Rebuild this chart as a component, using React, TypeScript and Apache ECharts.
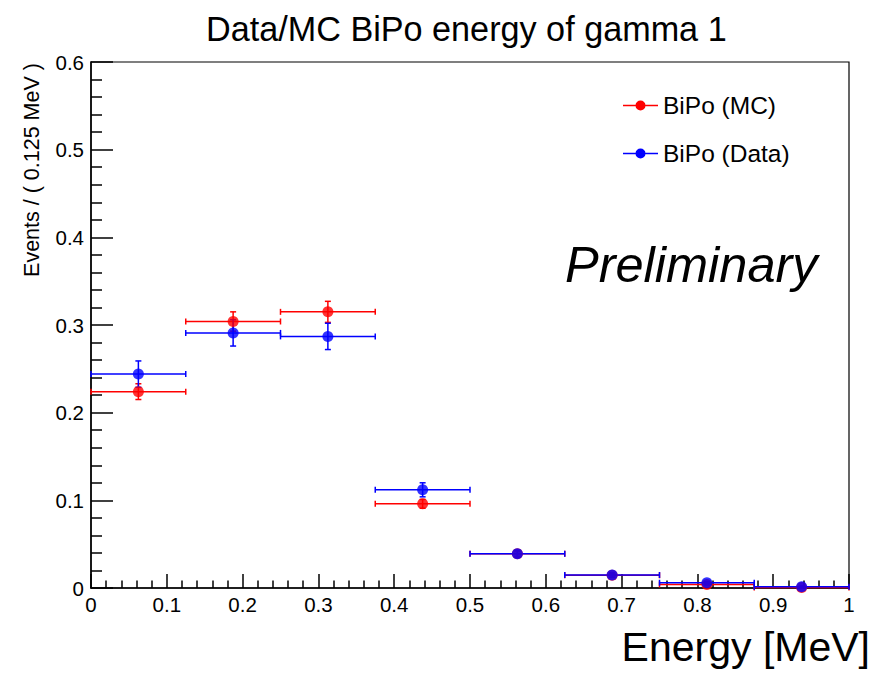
import React, { useEffect, useRef } from "react";
import * as echarts from "echarts";

const binCenters = [0.0625, 0.1875, 0.3125, 0.4375, 0.5625, 0.6875, 0.8125, 0.9375];
const binHalfWidth = 0.0625;
const mcValues = [0.224, 0.304, 0.315, 0.096, 0.039, 0.0145, 0.004, 0.0006];
const mcErrors = [0.009, 0.011, 0.012, 0.005, 0.003, 0.002, 0.001, 0.0005];
const dataValues = [0.244, 0.291, 0.287, 0.112, 0.039, 0.0148, 0.006, 0.0013];
const dataErrors = [0.015, 0.015, 0.015, 0.008, 0.004, 0.0025, 0.0015, 0.001];
const xTickLabels = ["0", "0.1", "0.2", "0.3", "0.4", "0.5", "0.6", "0.7", "0.8", "0.9", "1"];
const yTickLabels = ["0", "0.1", "0.2", "0.3", "0.4", "0.5", "0.6"];

const FONT = "Liberation Sans, Arial, Helvetica, sans-serif";
const RED = "#ff0000";
const BLUE = "#0000ff";
const LEGEND_ICON =
  "path://M0,5.25 L35,5.25 L35,6.75 L0,6.75 Z M12.5,6 A5,5 0 1 1 22.5,6 A5,5 0 1 1 12.5,6 Z";

function errorBarSeries(name: string, color: string, values: number[], errors: number[]) {
  return {
    name,
    type: "custom",
    itemStyle: { color },
    data: binCenters.map((x, i) => [x, values[i], binHalfWidth, errors[i]]),
    encode: { x: 0, y: 1 },
    renderItem: (_params: any, api: any) => {
      const x = api.value(0);
      const y = api.value(1);
      const ex = api.value(2);
      const ey = api.value(3);
      const c = api.coord([x, y]);
      const l = api.coord([x - ex, y]);
      const r = api.coord([x + ex, y]);
      const t = api.coord([x, y + ey]);
      const b = api.coord([x, Math.max(0, y - ey)]);
      const style = { stroke: color, lineWidth: 1.5 };
      const cap = 3;
      return {
        type: "group",
        children: [
          { type: "line", shape: { x1: l[0], y1: c[1], x2: r[0], y2: c[1] }, style },
          { type: "line", shape: { x1: l[0], y1: c[1] - cap, x2: l[0], y2: c[1] + cap }, style },
          { type: "line", shape: { x1: r[0], y1: c[1] - cap, x2: r[0], y2: c[1] + cap }, style },
          { type: "line", shape: { x1: c[0], y1: t[1], x2: c[0], y2: b[1] }, style },
          { type: "line", shape: { x1: c[0] - cap, y1: t[1], x2: c[0] + cap, y2: t[1] }, style },
          { type: "line", shape: { x1: c[0] - cap, y1: b[1], x2: c[0] + cap, y2: b[1] }, style },
        ],
      };
    },
  };
}

function pointSeries(name: string, color: string, values: number[]) {
  return {
    name,
    type: "scatter",
    symbol: "circle",
    symbolSize: 11,
    itemStyle: { color },
    data: binCenters.map((x, i) => [x, values[i]]),
  };
}

export default function App() {
  const ref = useRef<HTMLDivElement>(null);
  useEffect(() => {
    if (!ref.current) return;
    const chart = echarts.init(ref.current, null, { renderer: "svg" });
    const tickStyle = { color: "#000", width: 1.5 };
    chart.setOption({
      animation: false,
      backgroundColor: "#fff",
      title: {
        text: "Data/MC BiPo energy of gamma 1",
        left: 201,
        top: 7,
        textStyle: { fontFamily: FONT, fontSize: 34.2, fontWeight: "normal", color: "#000" },
      },
      grid: {
        left: 91,
        top: 62,
        width: 758,
        height: 526,
        show: true,
        borderColor: "#000",
        borderWidth: 1.2,
      },
      legend: {
        orient: "vertical",
        left: 618,
        top: 87,
        itemWidth: 35,
        itemHeight: 10,
        itemGap: 21,
        textStyle: { fontFamily: FONT, fontSize: 24.5, color: "#000", lineHeight: 27 },
        data: [
          { name: "BiPo (MC)", icon: LEGEND_ICON, itemStyle: { color: RED } },
          { name: "BiPo (Data)", icon: LEGEND_ICON, itemStyle: { color: BLUE } },
        ],
      },
      xAxis: {
        type: "value",
        min: 0,
        max: 1,
        interval: 0.1,
        axisLine: { show: true, onZero: false, lineStyle: tickStyle },
        axisTick: { show: true, inside: true, length: 14, lineStyle: tickStyle },
        minorTick: { show: true, splitNumber: 5, length: 7.5, lineStyle: tickStyle },
        splitLine: { show: false },
        minorSplitLine: { show: false },
        axisLabel: {
          fontFamily: FONT,
          fontSize: 20.5,
          color: "#000",
          margin: 6,
          showMinLabel: true,
          showMaxLabel: true,
          formatter: (v: number) => xTickLabels[Math.round(v * 10)] ?? "",
        },
      },
      yAxis: {
        type: "value",
        min: 0,
        max: 0.6,
        interval: 0.1,
        axisLine: { show: true, onZero: false, lineStyle: tickStyle },
        axisTick: { show: true, inside: true, length: 22, lineStyle: tickStyle },
        minorTick: { show: true, splitNumber: 5, length: 11, lineStyle: tickStyle },
        splitLine: { show: false },
        minorSplitLine: { show: false },
        axisLabel: {
          fontFamily: FONT,
          fontSize: 20.5,
          color: "#000",
          margin: 7,
          showMinLabel: true,
          showMaxLabel: true,
          formatter: (v: number) => yTickLabels[Math.round(v * 10)] ?? "",
        },
      },
      graphic: [
        {
          type: "text",
          x: 32,
          y: 170,
          rotation: Math.PI / 2,
          style: {
            text: "Events / ( 0.125 MeV )",
            fontFamily: FONT,
            fontSize: 21.5,
            fill: "#000",
            align: "center",
            verticalAlign: "middle",
          },
        },
        {
          type: "text",
          x: 870,
          y: 647,
          style: {
            text: "Energy [MeV]",
            fontFamily: FONT,
            fontSize: 41,
            fill: "#000",
            align: "right",
            verticalAlign: "middle",
          },
        },
        {
          type: "text",
          x: 565,
          y: 264,
          style: {
            text: "Preliminary",
            fontFamily: FONT,
            fontSize: 50.5,
            fontStyle: "italic",
            fill: "#000",
            align: "left",
            verticalAlign: "middle",
          },
        },
      ],
      series: [
        errorBarSeries("BiPo (MC)", RED, mcValues, mcErrors),
        pointSeries("BiPo (MC)", RED, mcValues),
        errorBarSeries("BiPo (Data)", BLUE, dataValues, dataErrors),
        pointSeries("BiPo (Data)", BLUE, dataValues),
      ],
    });
    return () => chart.dispose();
  }, []);
  return (
    <div
      ref={ref}
      style={{ position: "fixed", left: 0, top: 0, width: 875, height: 674 }}
    />
  );
}
